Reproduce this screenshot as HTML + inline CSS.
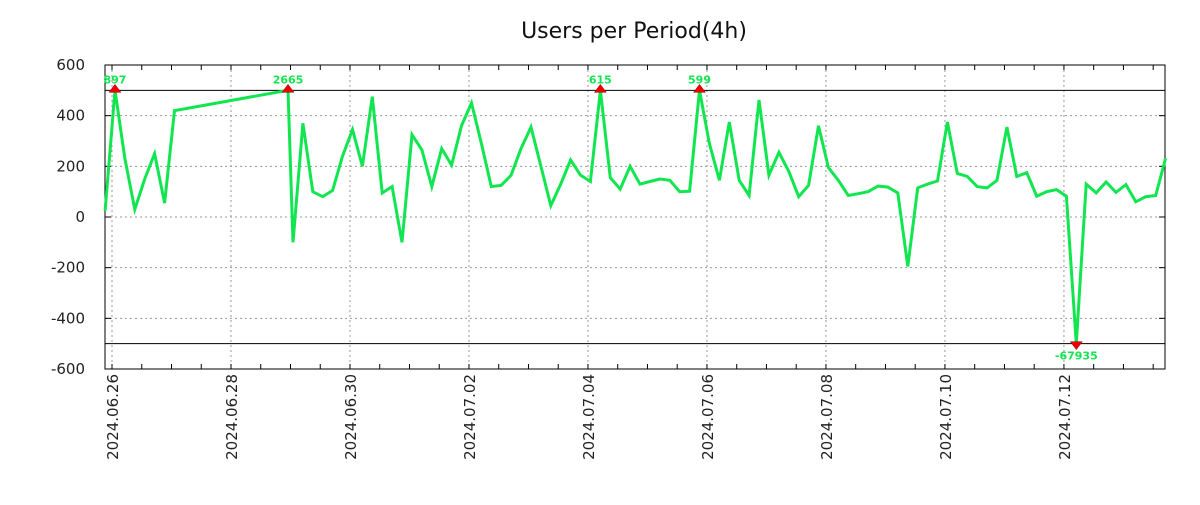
<!DOCTYPE html>
<html><head><meta charset="utf-8"><style>
body{margin:0;background:#fff}
svg text{font-family:"DejaVu Sans","Liberation Sans",sans-serif}
</style></head><body>
<svg id="chart" width="1200" height="500" xmlns="http://www.w3.org/2000/svg">
<rect width="1200" height="500" fill="#fff"/>
<text x="634" y="38" font-size="22" text-anchor="middle" fill="#111">Users per Period(4h)</text>
<g id="grid"></g><g id="axes"></g><g id="series"></g><g id="marks"></g>
</svg>
<script>
const seg1Hours=[-2.8,1.2,5.2,9.2,13.2,17.2,21.2,25.2];
const seg1Values=[25,897,230,30,150,250,55,420];
const seg2Start=71;
const seg2Values=[2665,-100,370,100,80,105,240,345,200,475,95,120,-100,325,265,120,270,205,360,450,290,120,125,165,270,355,200,45,130,225,165,140,615,155,110,200,130,140,150,145,100,102,599,290,145,375,145,85,462,165,255,180,80,125,360,195,145,85,92,100,122,118,95,-195,115,130,142,375,172,160,120,115,145,355,160,175,82,100,108,82,-67935,130,95,138,97,128,60,80,85,232];
const yTicks=[-600,-400,-200,0,200,400,600];
const xTickLabels=["2024.06.26","2024.06.28","2024.06.30","2024.07.02","2024.07.04","2024.07.06","2024.07.08","2024.07.10","2024.07.12"];
const clipHi=500, clipLo=-500;

const L=105,R=1165,T=65,B=369;
const x=h=>112+h*2.479;
const y=v=>217-v*0.25333;
const NS="http://www.w3.org/2000/svg";
function mk(tag,attrs,parent){const e=document.createElementNS(NS,tag);for(const k in attrs)e.setAttribute(k,attrs[k]);parent.appendChild(e);return e;}
const grid=document.getElementById('grid'),axes=document.getElementById('axes'),series=document.getElementById('series'),marks=document.getElementById('marks');

// points
const pts=[];
seg1Hours.forEach((h,i)=>pts.push([h,seg1Values[i]]));
seg2Values.forEach((v,i)=>pts.push([i===0?seg2Start:seg2Start+2+4*(i-1),v]));

// grid
yTicks.forEach(v=>{
  if(v>-600&&v<600){const g=mk('line',{x1:L,x2:R,y1:y(v),y2:y(v),stroke:'#999','stroke-dasharray':'2,3','stroke-width':1},grid);
  }
  const t=mk('text',{x:L-20,y:y(v)+5,'font-size':15,'text-anchor':'end',fill:'#222'},axes);t.textContent=v;
  
  mk('line',{x1:L,x2:L+6,y1:y(v),y2:y(v),stroke:'#000'},axes);
  mk('line',{x1:R-6,x2:R,y1:y(v),y2:y(v),stroke:'#000'},axes);
});
xTickLabels.forEach((lab,i)=>{
  const xp=x(i*48);
  const g=mk('line',{x1:xp,x2:xp,y1:T,y2:B,stroke:'#999','stroke-dasharray':'2,3'},grid);
  
  const t=mk('text',{x:0,y:0,'font-size':15,'text-anchor':'end',fill:'#222',transform:`translate(${xp+6},${B+5}) rotate(-90)`},axes);
  t.textContent=lab;
  
});
for(let h=-0;h<=424;h+=12){const xp=x(h);if(xp<L||xp>R)continue;
  mk('line',{x1:xp,x2:xp,y1:T,y2:T+5,stroke:'#000'},axes);
  mk('line',{x1:xp,x2:xp,y1:B-5,y2:B,stroke:'#000'},axes);}
const frame=mk('rect',{x:L,y:T,width:R-L,height:B-T,fill:'none',stroke:'#000','stroke-width':1},axes);

[clipHi,clipLo].forEach(v=>{const l=mk('line',{x1:L,x2:R,y1:y(v),y2:y(v),stroke:'#000','stroke-width':1},axes);
  });

// series
const d=pts.map((p,i)=>(i?'L':'M')+x(p[0]).toFixed(1)+','+y(Math.max(clipLo,Math.min(clipHi,p[1]))).toFixed(1)).join(' ');
const path=mk('path',{d:d,fill:'none',stroke:'#11e650','stroke-width':3,'stroke-linejoin':'miter'},series);


// clipped markers
pts.forEach(p=>{
  if(p[1]>clipHi||p[1]<clipLo){
    const xp=x(p[0]),up=p[1]>clipHi,yp=y(up?clipHi:clipLo);
    const tri=mk('polygon',{points:up?`${xp-6},${yp+2} ${xp+6},${yp+2} ${xp},${yp-6}`:`${xp-6},${yp-2} ${xp+6},${yp-2} ${xp},${yp+6}`,fill:'#e00','stroke':'#900','stroke-width':0.5},marks);
    
    const t=mk('text',{x:xp,y:up?yp-7:yp+16,'font-size':11,'font-weight':'bold','text-anchor':'middle',fill:'#11e650'},marks);
    t.textContent=p[1];
    
  }
});
</script>
</body></html>
